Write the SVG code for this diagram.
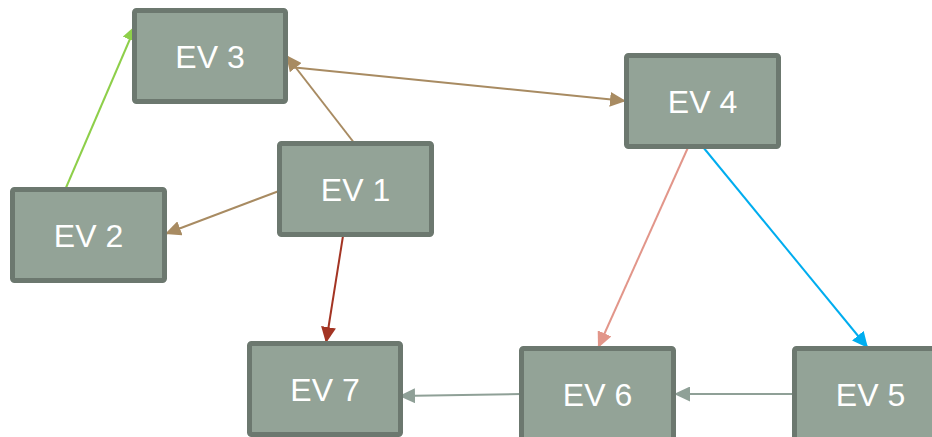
<svg xmlns="http://www.w3.org/2000/svg" width="932" height="437" viewBox="0 0 932 437">
  <style>
    .node rect { fill: #93a397; stroke: #6c786f; stroke-width: 5; }
    .node text { font-family: "Liberation Sans", Arial, sans-serif; font-size: 32px; fill: #ffffff; text-anchor: middle; }
    .edge { fill: none; stroke-width: 2; }
  </style>
  <defs>
    <marker id="ah-green" markerUnits="userSpaceOnUse" markerWidth="17" markerHeight="15" refX="16" refY="7.5" orient="auto"><path d="M0,0 L16,7.5 L0,15 Z" fill="#8ecf4a"/></marker>
    <marker id="ah-brown" markerUnits="userSpaceOnUse" markerWidth="17" markerHeight="15" refX="16" refY="7.5" orient="auto"><path d="M0,0 L16,7.5 L0,15 Z" fill="#a88b62"/></marker>
    <marker id="ah-red" markerUnits="userSpaceOnUse" markerWidth="17" markerHeight="15" refX="16" refY="7.5" orient="auto"><path d="M0,0 L16,7.5 L0,15 Z" fill="#a33423"/></marker>
    <marker id="ah-salmon" markerUnits="userSpaceOnUse" markerWidth="17" markerHeight="15" refX="16" refY="7.5" orient="auto"><path d="M0,0 L16,7.5 L0,15 Z" fill="#e2968a"/></marker>
    <marker id="ah-blue" markerUnits="userSpaceOnUse" markerWidth="17" markerHeight="15" refX="16" refY="7.5" orient="auto"><path d="M0,0 L16,7.5 L0,15 Z" fill="#00adef"/></marker>
    <marker id="ah-grey" markerUnits="userSpaceOnUse" markerWidth="17" markerHeight="15" refX="16" refY="7.5" orient="auto"><path d="M0,0 L16,7.5 L0,15 Z" fill="#8fa097"/></marker>
  </defs>

  <g id="connectors">
    <path class="edge" d="M65,190 L136,25" stroke="#8ecf4a" marker-end="url(#ah-green)"/>
    <path class="edge" d="M355,144 L286,55" stroke="#a88b62" marker-end="url(#ah-brown)"/>
    <path class="edge" d="M290,67 L626,101" stroke="#a88b62" marker-end="url(#ah-brown)"/>
    <path class="edge" d="M279,191 L165,234" stroke="#a88b62" marker-end="url(#ah-brown)"/>
    <path class="edge" d="M343,236 L326,343" stroke="#a33423" marker-end="url(#ah-red)"/>
    <path class="edge" d="M690,143 L598,348" stroke="#e2968a" marker-end="url(#ah-salmon)"/>
    <path class="edge" d="M703,147 L868,348" stroke="#00adef" marker-end="url(#ah-blue)"/>
    <path class="edge" d="M794,394 L674,394" stroke="#8fa097" marker-end="url(#ah-grey)"/>
    <path class="edge" d="M521,394 L399,396" stroke="#8fa097" marker-end="url(#ah-grey)"/>
  </g>

  <g id="ev1" class="node"><rect x="279.5" y="143.5" width="152" height="91" rx="2"/><text x="355.5" y="200.5">EV 1</text></g>
  <g id="ev2" class="node"><rect x="12.5" y="189.5" width="152" height="91" rx="2"/><text x="88.5" y="246.5">EV 2</text></g>
  <g id="ev3" class="node"><rect x="134.5" y="10.5" width="151" height="91" rx="2"/><text x="210" y="67.5">EV 3</text></g>
  <g id="ev4" class="node"><rect x="626.5" y="55.5" width="152" height="91" rx="2"/><text x="702.5" y="112.5">EV 4</text></g>
  <g id="ev5" class="node"><rect x="794.5" y="348.5" width="152" height="91" rx="2"/><text x="870.5" y="405.5">EV 5</text></g>
  <g id="ev6" class="node"><rect x="521.5" y="348.5" width="152" height="91" rx="2"/><text x="597.5" y="405.5">EV 6</text></g>
  <g id="ev7" class="node"><rect x="249.5" y="343.5" width="151" height="91" rx="2"/><text x="325" y="400.5">EV 7</text></g>
</svg>
